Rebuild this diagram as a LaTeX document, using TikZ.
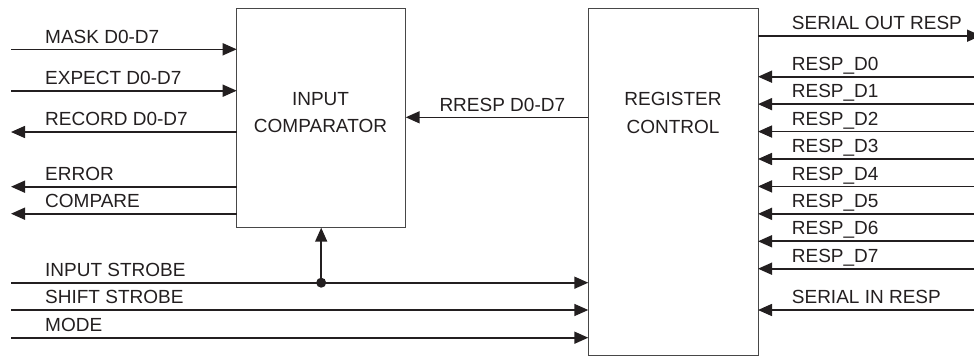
\documentclass[tikz,border=0pt]{standalone}
\usepackage{fontspec}
\setmainfont{Liberation Sans}
\usetikzlibrary{arrows.meta}
\definecolor{ink}{HTML}{231F20}
\begin{document}
\begin{tikzpicture}[x=1pt,y=-1pt,
  sig/.style={line width=1.6pt, draw=ink},
  arr/.style={sig, -{Triangle[length=14pt,width=12pt]}},
  blk/.style={draw=black!72, line width=0.9pt, inner sep=0pt, outer sep=0pt, fill=none},
  lbl/.style={font=\fontsize{19}{23}\selectfont, text=ink, inner sep=0pt, anchor=base west},
  boxtxt/.style={font=\fontsize{19}{27.5}\selectfont, text=ink, inner sep=0pt, align=center}]
\useasboundingbox (0,0) rectangle (974,356);

% blocks
\node[blk, minimum width=169pt, minimum height=219.7pt] (cmp) at (321.2,117.85) {};
\node[blk, minimum width=169.7pt, minimum height=347pt] (reg) at (673.15,181.5) {};
\node[boxtxt] (cmptxt) at (320.5,112.8) {INPUT\\COMPARATOR};
\node[boxtxt] (regtxt) at (673,112.8) {REGISTER\\CONTROL};

% left-side signal ends
\coordinate (mask) at (11,49.3);
\coordinate (expect) at (11,90.7);
\coordinate (record) at (11,132);
\coordinate (error) at (11,186.7);
\coordinate (compare) at (11,213.7);
\coordinate (instr) at (11,282.7);
\coordinate (shstr) at (11,310);
\coordinate (mode) at (11,337.7);

\draw[arr] (mask) -- (mask -| cmp.west);
\draw[arr] (expect) -- (expect -| cmp.west);
\draw[arr] (record -| cmp.west) -- (record);
\draw[arr] (error -| cmp.west) -- (error);
\draw[arr] (compare -| cmp.west) -- (compare);
\draw[arr] (instr) -- (instr -| reg.west);
\draw[arr] (shstr) -- (shstr -| reg.west);
\draw[arr] (mode) -- (mode -| reg.west);

% junction to comparator
\coordinate (jn) at (instr -| cmp.south);
\fill[ink] (jn) circle (5pt);
\draw[arr] (jn) -- (cmp.south);

\node[lbl] (lmask) at (45,43) {MASK D0-D7};
\node[lbl] (lexpect) at (45,84.4) {EXPECT D0-D7};
\node[lbl] (lrecord) at (45,125.7) {RECORD D0-D7};
\node[lbl] (lerror) at (45,180.4) {ERROR};
\node[lbl] (lcompare) at (45,207.4) {COMPARE};
\node[lbl] (linstr) at (45,276.4) {INPUT STROBE};
\node[lbl] (lshstr) at (45,303.7) {SHIFT STROBE};
\node[lbl] (lmode) at (45,331.4) {MODE};

% RRESP bus
\coordinate (rr) at (500,117.3);
\draw[arr] (rr -| reg.west) -- (rr -| cmp.east);
\node[lbl] (lrr) at (439.3,111.3) {RRESP D0-D7};

% right side
\coordinate (sout) at (981,35.7);
\draw[arr] (sout -| reg.east) -- (sout);
\node[lbl] (lsout) at (791.7,29.3) {SERIAL OUT RESP};

\foreach \k in {0,...,7}{
  \coordinate (d\k) at (974,{76.7+27.43*\k});
  \draw[arr] (d\k) -- (d\k -| reg.east);
  \node[lbl] (ld\k) at (791.7,{70.3+27.43*\k}) {RESP\_D\k};
}
\coordinate (sin) at (974,310);
\draw[arr] (sin) -- (sin -| reg.east);
\node[lbl] (lsin) at (791.7,303.6) {SERIAL IN RESP};
\end{tikzpicture}
\end{document}
